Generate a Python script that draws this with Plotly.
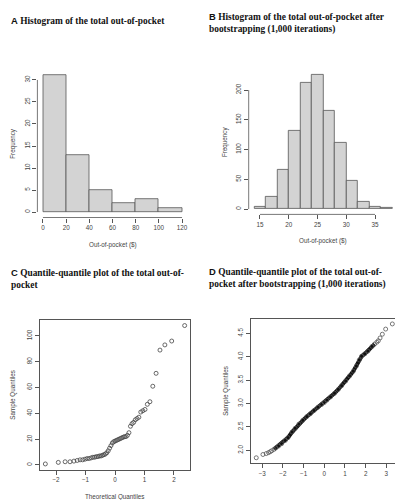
import plotly.graph_objects as go
from statistics import NormalDist

W, H = 403, 500

# ---------------- data ----------------
# Panel A: histogram of total out-of-pocket
a_edges = [0, 20, 40, 60, 80, 100, 120]
a_counts = [31, 13, 5, 2, 3, 1]
a_xticks = [0, 20, 40, 60, 80, 100, 120]
a_yticks = [0, 5, 10, 15, 20, 25, 30]

# Panel B: histogram after bootstrapping
b_edges = [14, 16, 18, 20, 22, 24, 26, 28, 30, 32, 34, 36, 38]
b_counts = [3, 20, 66, 131, 213, 225, 165, 111, 47, 13, 4, 2]
b_xticks = [15, 20, 25, 30, 35]
b_yticks = [0, 50, 100, 150, 200]

# Panel C: sorted sample values (n = 55)
c_sample = [0.8, 2, 2.5, 2.5, 3, 3.5, 4, 4, 4.5, 5, 5, 5.5, 6, 6, 6.5, 6.5, 7, 7,
            7.5, 8, 8.5, 9.5, 11, 13, 15, 17, 18, 18.5, 19, 19.5, 20, 20.5, 21,
            21.5, 22, 22, 23, 25, 30, 32, 33, 35, 36, 37, 41, 42, 43, 47, 49,
            61, 71, 89, 93, 96, 108]
c_xticks = [-2, -1, 0, 1, 2]
c_yticks = [0, 20, 40, 60, 80, 100]

# Panel D: sample quantiles read at selected ranks (n = 1000)
d_n = 1000
d_ranks = [1, 2, 3, 4, 5, 6, 8, 10, 14, 20, 30, 40, 60, 80, 110, 150, 200, 250,
           310, 380, 450, 500, 550, 620, 690, 750, 800, 850, 890, 920, 940, 955,
           965, 975, 983, 990, 993, 995, 996, 997, 998, 999, 1000]
d_values = [1.84, 1.91, 1.93, 1.95, 1.97, 1.99, 2.02, 2.05, 2.09, 2.14, 2.21, 2.27,
            2.39, 2.47, 2.56, 2.64, 2.72, 2.78, 2.85, 2.92, 2.98, 3.02, 3.07, 3.14,
            3.22, 3.30, 3.38, 3.48, 3.59, 3.69, 3.80, 3.93, 4.01, 4.06, 4.12, 4.22,
            4.27, 4.31, 4.34, 4.40, 4.48, 4.59, 4.70]
d_xticks = [-3, -2, -1, 0, 1, 2, 3]
d_yticks = [2.0, 2.5, 3.0, 3.5, 4.0, 4.5]

# ---------------- helpers ----------------
nd = NormalDist()
c_n = len(c_sample)
c_theo = [nd.inv_cdf((i + 0.5) / c_n) for i in range(c_n)]
d_theo = [nd.inv_cdf((r - 0.5) / d_n) for r in d_ranks]


def px_x(p):
    return p / W


def px_y(p):
    return 1 - p / H


AX = "#555555"
TXT = "#444444"
SANS = "Liberation Sans, Arial, sans-serif"
SERIF = "Liberation Serif, Times New Roman, serif"
TICKF = dict(family=SANS, size=6.3, color=TXT)

fig = go.Figure()

# Histogram A
fig.add_trace(go.Bar(
    x=[(a_edges[i] + a_edges[i + 1]) / 2 for i in range(len(a_counts))],
    y=a_counts, width=[a_edges[i + 1] - a_edges[i] for i in range(len(a_counts))],
    marker=dict(color="#D3D3D3", line=dict(color="#555555", width=0.8)),
    xaxis="x", yaxis="y", showlegend=False, hoverinfo="skip"))

# Histogram B
fig.add_trace(go.Bar(
    x=[(b_edges[i] + b_edges[i + 1]) / 2 for i in range(len(b_counts))],
    y=b_counts, width=[b_edges[i + 1] - b_edges[i] for i in range(len(b_counts))],
    marker=dict(color="#D3D3D3", line=dict(color="#555555", width=0.8)),
    xaxis="x2", yaxis="y2", showlegend=False, hoverinfo="skip"))

# QQ plot C
fig.add_trace(go.Scatter(
    x=c_theo, y=c_sample, mode="markers",
    marker=dict(symbol="circle-open", size=4, color="#444444", line=dict(width=0.8)),
    xaxis="x3", yaxis="y3", showlegend=False, hoverinfo="skip"))

# QQ plot D: dense band + individual points
dense = [(x, y) for x, y, r in zip(d_theo, d_values, d_ranks) if 8 <= r <= 993]
fig.add_trace(go.Scatter(
    x=[p[0] for p in dense], y=[p[1] for p in dense], mode="lines",
    line=dict(color="#111111", width=4),
    xaxis="x4", yaxis="y4", showlegend=False, hoverinfo="skip"))
fig.add_trace(go.Scatter(
    x=d_theo, y=d_values, mode="markers",
    marker=dict(symbol="circle-open", size=4, color="#555555", line=dict(width=0.8)),
    xaxis="x4", yaxis="y4", showlegend=False, hoverinfo="skip"))

# ---------------- axes ----------------
def xax(dom, rng, ticks, anchor, box=False):
    return dict(domain=[px_x(dom[0]), px_x(dom[1])], range=rng, tickvals=ticks,
                ticks="outside", ticklen=4, tickcolor=AX, tickwidth=0.8,
                tickfont=TICKF, showgrid=False, zeroline=False,
                showline=box, mirror=box, linecolor=AX, linewidth=1,
                anchor=anchor, fixedrange=True)


def yax(dom, rng, ticks, anchor, box=False, text=None):
    d = dict(domain=[px_y(dom[1]), px_y(dom[0])], range=rng, tickvals=ticks,
             ticks="outside", ticklen=4, tickcolor=AX, tickwidth=0.8,
             tickfont=TICKF, tickangle=-90, showgrid=False, zeroline=False,
             showline=box, mirror=box, linecolor=AX, linewidth=1,
             anchor=anchor, fixedrange=True)
    if text is not None:
        d["ticktext"] = text
    return d


A_X, A_Y = (29.4, 179.6), (62.1, 209.5)
B_X, B_Y = (240.7, 389.8), (61.8, 206.4)
C_X, C_Y = (31.8, 182.2), (312.0, 461.5)
D_X, D_Y = (242.9, 389.7), (310.6, 455.1)

fig.update_layout(
    xaxis=xax(A_X, [-4.8, 124.8], a_xticks, "y"),
    yaxis=yax(A_Y, [-1.24, 32.24], a_yticks, "x"),
    xaxis2=xax(B_X, [13.04, 38.96], b_xticks, "y2"),
    yaxis2=yax(B_Y, [-9, 234], b_yticks, "x2"),
    xaxis3=xax(C_X, [-2.55, 2.55], c_xticks, "y3", box=True),
    yaxis3=yax(C_Y, [-3.5, 112.3], c_yticks, "x3", box=True),
    xaxis4=xax(D_X, [-3.55, 3.55], d_xticks, "y4", box=True),
    yaxis4=yax(D_Y, [1.726, 4.814], d_yticks, "x4", box=True,
               text=[f"{v:.1f}" for v in d_yticks]),
)

# R-style partial axis lines for the histograms
shapes = []
for xa, ya, xt, yt in [("x", "y", a_xticks, a_yticks), ("x2", "y2", b_xticks, b_yticks)]:
    shapes.append(dict(type="line", xref=xa, yref=ya + " domain", x0=xt[0], x1=xt[-1],
                       y0=0, y1=0, line=dict(color=AX, width=0.8)))
    shapes.append(dict(type="line", xref=xa + " domain", yref=ya, x0=0, x1=0,
                       y0=yt[0], y1=yt[-1], line=dict(color=AX, width=0.8)))

# ---------------- text ----------------
def title(letter, text, x, y):
    return dict(text=f"<span style='font-family:{SANS}'><b>{letter}</b></span> {text}",
                x=px_x(x), y=px_y(y), xref="paper", yref="paper",
                xanchor="left", yanchor="middle", align="left", showarrow=False,
                font=dict(family=SERIF, size=9.4, color="#111111"))


def label(text, x, y, angle=0):
    return dict(text=text, x=px_x(x), y=px_y(y), xref="paper", yref="paper",
                xanchor="center", yanchor="middle", showarrow=False, textangle=angle,
                font=dict(family=SANS, size=6.3, color=TXT))


annotations = [
    title("A", "<b>Histogram of the total out-of-pocket</b>", 1, 12),
    title("B", "<b>Histogram of the total out-of-pocket after<br>bootstrapping (1,000 iterations)</b>", 199, 15),
    title("C", "<b>Quantile-quantile plot of the total out-of-<br>pocket</b>", 1, 270),
    title("D", "<b>Quantile-quantile plot of the total out-of-<br>pocket after bootstrapping (1,000 iterations)</b>", 199, 270),
    label("Out-of-pocket ($)", (A_X[0] + A_X[1]) / 2, 237),
    label("Frequency", 5, (A_Y[0] + A_Y[1]) / 2, -90),
    label("Out-of-pocket ($)", (B_X[0] + B_X[1]) / 2, 233),
    label("Frequency", 217, (B_Y[0] + B_Y[1]) / 2, -90),
    label("Theoretical Quantiles", (C_X[0] + C_X[1]) / 2, 489),
    label("Sample Quantiles", 5, (C_Y[0] + C_Y[1]) / 2, -90),
    label("Sample Quantiles", 218, (D_Y[0] + D_Y[1]) / 2, -90),
]

fig.update_layout(
    width=W, height=H, margin=dict(l=0, r=0, t=0, b=0),
    paper_bgcolor="white", plot_bgcolor="white",
    bargap=0, shapes=shapes, annotations=annotations, showlegend=False,
)

fig.write_html("out.html", config={"displayModeBar": False})
